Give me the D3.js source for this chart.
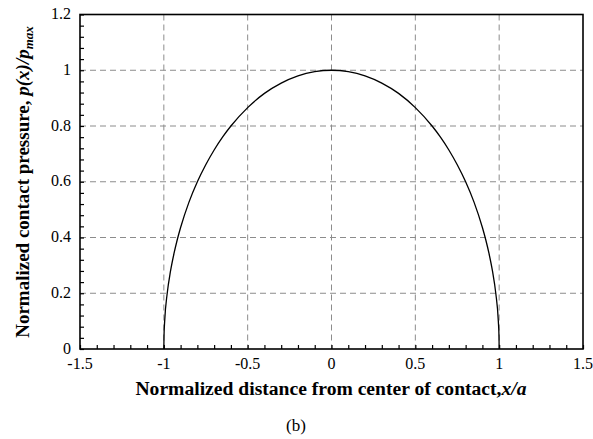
<!DOCTYPE html>
<html>
<head>
<meta charset="utf-8">
<script src="https://d3js.org/d3.v7.min.js"></script>
<style>
  body { margin: 0; background: #fff; }
  svg { display: block; }
  svg text { font-family: 'Liberation Serif', 'Times New Roman', Times, 'DejaVu Serif', serif; }
</style>
</head>
<body>
<svg width="593" height="439"></svg>
<script>
// x/a values and normalized pressure
const xPos = [-1, -0.999, -0.995, -0.98, -0.96, -0.94, -0.92, -0.9, -0.85, -0.8, -0.75, -0.7, -0.65, -0.6, -0.5, -0.4, -0.3, -0.2, -0.1,
  0, 0.1, 0.2, 0.3, 0.4, 0.5, 0.6, 0.65, 0.7, 0.75, 0.8, 0.85, 0.9, 0.92, 0.94, 0.96, 0.98, 0.995, 0.999, 1];
const pressure = [0, 0.045, 0.1, 0.199, 0.28, 0.341, 0.392, 0.436, 0.527, 0.6, 0.661, 0.714, 0.76, 0.8, 0.866, 0.917, 0.954, 0.98, 0.995,
  1, 0.995, 0.98, 0.954, 0.917, 0.866, 0.8, 0.76, 0.714, 0.661, 0.6, 0.527, 0.436, 0.392, 0.341, 0.28, 0.199, 0.1, 0.045, 0];

const xTicks = [-1.5, -1, -0.5, 0, 0.5, 1, 1.5];
const yTicks = [0, 0.2, 0.4, 0.6, 0.8, 1, 1.2];

const svg = d3.select("svg").attr("font-family", "Liberation Serif");
const plotL = 80, plotR = 583, plotT = 14.5, plotB = 349;

const x = d3.scaleLinear().domain([-1.5, 1.5]).range([plotL, plotR]);
const y = d3.scaleLinear().domain([0, 1.2]).range([plotB, plotT]);

// grid
const grid = svg.append("g").attr("stroke", "#8c8c8c").attr("stroke-width", 1).attr("stroke-dasharray", "6,4");
grid.selectAll(".gx").data(xTicks.slice(1, -1)).join("line").attr("class", "gx")
  .attr("x1", d => x(d)).attr("x2", d => x(d)).attr("y1", plotT).attr("y2", plotB);
grid.selectAll(".gy").data(yTicks.slice(1, -1)).join("line").attr("class", "gy")
  .attr("y1", d => y(d)).attr("y2", d => y(d)).attr("x1", plotL).attr("x2", plotR);

// minor + major ticks, inward
const xAxis = d3.axisBottom(x).tickValues(d3.range(-15, 16).map(d => d / 10)).tickSizeInner(-4).tickSizeOuter(0).tickFormat("");
const gx = svg.append("g").attr("transform", `translate(0,${plotB})`).call(xAxis);
const yAxis = d3.axisLeft(y).tickValues(d3.range(0, 31).map(d => d * 0.04)).tickSizeInner(-4).tickSizeOuter(0).tickFormat("");
const gy = svg.append("g").attr("transform", `translate(${plotL},0)`).call(yAxis);
gx.select(".domain").remove();
gy.select(".domain").remove();
svg.selectAll(".tick line").attr("stroke", "#000").attr("stroke-width", 1.2);

// tick labels
svg.append("g").selectAll("text").data(xTicks).join("text")
  .attr("x", d => x(d)).attr("y", 369)
  .attr("text-anchor", "middle").attr("font-size", 16)
  .text(d => d);
svg.append("g").selectAll("text").data(yTicks).join("text")
  .attr("x", 71).attr("y", d => y(d) + 4.5)
  .attr("text-anchor", "end").attr("font-size", 16)
  .text(d => d);

// curve
const line = d3.line().x((d, i) => x(xPos[i])).y(d => y(d)).curve(d3.curveMonotoneX);
svg.append("path").attr("d", line(pressure))
  .attr("fill", "none").attr("stroke", "#000").attr("stroke-width", 1.3);

// frame
svg.append("rect").attr("x", plotL).attr("y", plotT).attr("width", plotR - plotL).attr("height", plotB - plotT)
  .attr("fill", "none").attr("stroke", "#000").attr("stroke-width", 1.6);

// axis titles
const xt = svg.append("text").attr("x", 331).attr("y", 395).attr("text-anchor", "middle")
  .attr("font-size", 19.6).attr("font-weight", "bold");
xt.append("tspan").text("Normalized distance from center of contact,");
xt.append("tspan").attr("font-style", "italic").text("x/a");

const yt = svg.append("text").attr("transform", `translate(29,182) rotate(-90)`).attr("text-anchor", "middle")
  .attr("font-size", 19).attr("font-weight", "bold");
yt.append("tspan").text("Normalized contact pressure, ");
yt.append("tspan").attr("font-style", "italic").text("p(x)/p");
yt.append("tspan").attr("font-style", "italic").attr("font-size", 13).attr("dy", 4).text("max");

svg.append("text").attr("x", 296).attr("y", 431).attr("text-anchor", "middle").attr("font-size", 17).text("(b)");
</script>
</body>
</html>
